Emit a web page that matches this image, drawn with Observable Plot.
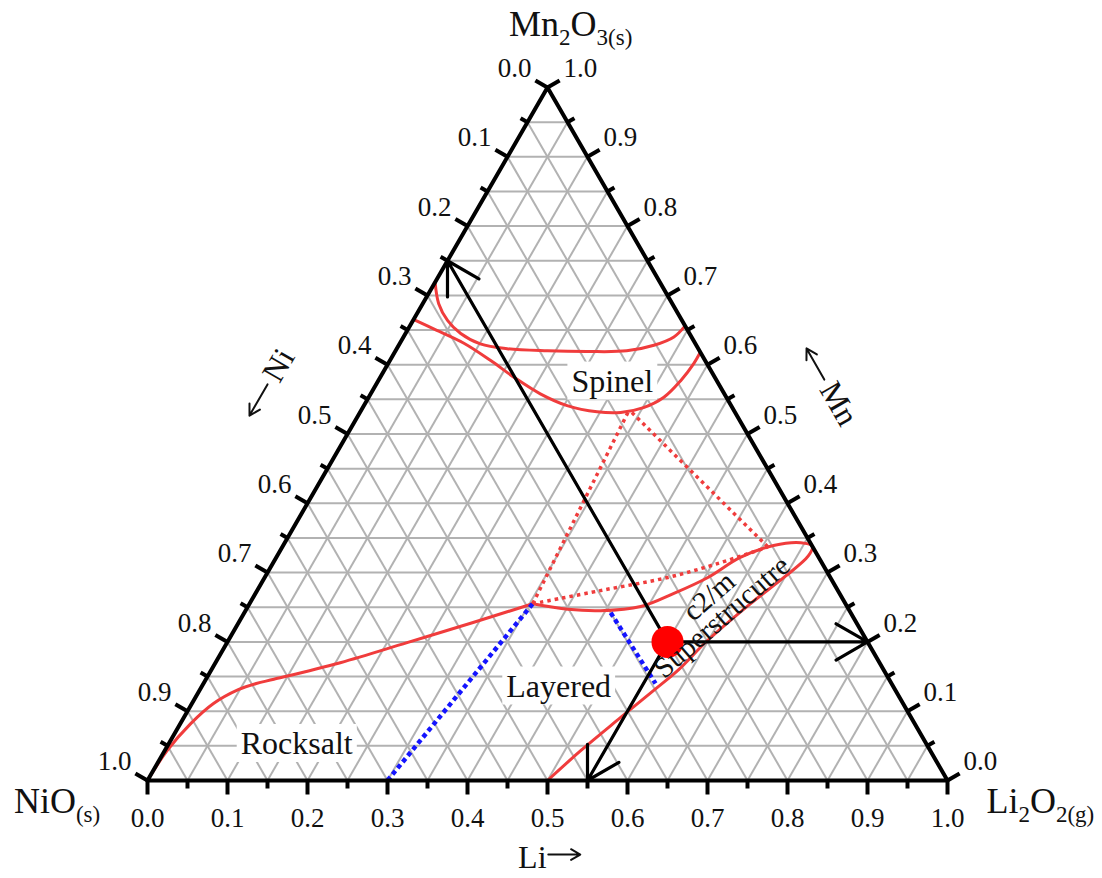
<!DOCTYPE html>
<html>
<head>
<meta charset="utf-8">
<script src="https://cdn.jsdelivr.net/npm/d3@7"></script>
<script src="https://cdn.jsdelivr.net/npm/@observablehq/plot@0.6"></script>
<style>
  html, body { margin: 0; padding: 0; background: #fff; }
</style>
</head>
<body>
<div id="chart"></div>
<script>
// Ternary phase diagram Li2O2 – NiO – Mn2O3.
// Every composition is written as [Li, Mn]; Ni = 1 − Li − Mn.

const tickValues = [0, 0.05, 0.1, 0.15, 0.2, 0.25, 0.3, 0.35, 0.4, 0.45, 0.5,
                    0.55, 0.6, 0.65, 0.7, 0.75, 0.8, 0.85, 0.9, 0.95, 1];
const tickLabels = ["0.0", "0.1", "0.2", "0.3", "0.4", "0.5", "0.6", "0.7", "0.8", "0.9", "1.0"];

// Spinel field boundaries
const spinelUpper = [[0.000, 0.719], [0.020, 0.688], [0.043, 0.664], [0.069, 0.645], [0.101, 0.630],
  [0.138, 0.623], [0.190, 0.620], [0.240, 0.619], [0.289, 0.620], [0.319, 0.628], [0.338, 0.640], [0.344, 0.656]];
const spinelLower = [[0.003, 0.664], [0.031, 0.652], [0.080, 0.631], [0.126, 0.606], [0.167, 0.582],
  [0.212, 0.558], [0.254, 0.541], [0.296, 0.532], [0.326, 0.531], [0.351, 0.538], [0.369, 0.553],
  [0.378, 0.577], [0.382, 0.602], [0.382, 0.618]];

// Rocksalt / layered boundary from the NiO corner
const rocksaltLayered = [[0.000, 0.000], [0.003, 0.043], [0.013, 0.082], [0.027, 0.111], [0.048, 0.131],
  [0.066, 0.140], [0.085, 0.146], [0.156, 0.170], [0.225, 0.199], [0.293, 0.228], [0.354, 0.255]];

// Layered / c2/m superstructure boundary (closed lens tip, then down to the Li axis)
const superstructure = [[0.354, 0.255], [0.402, 0.247], [0.444, 0.245], [0.491, 0.251], [0.523, 0.270],
  [0.554, 0.293], [0.580, 0.322], [0.613, 0.339], [0.645, 0.343], [0.662, 0.338], [0.664, 0.324],
  [0.649, 0.293], [0.626, 0.255], [0.599, 0.202], [0.584, 0.160], [0.570, 0.134], [0.546, 0.091],
  [0.520, 0.043], [0.500, 0.000]];

// Tentative (dotted) boundaries
const lensDotted = [[0.354, 0.255], [0.429, 0.274], [0.504, 0.293], [0.556, 0.313], [0.607, 0.337]];
const spinelDottedLeft = [[0.335, 0.531], [0.354, 0.255]];
const spinelDottedRight = [[0.340, 0.531], [0.607, 0.337]];
const blueDottedA = [[0.300, 0.000], [0.354, 0.255]];
const blueDottedB = [[0.458, 0.242], [0.565, 0.140]];

// Marked composition and its read-out to the three axes
const composition = [0.55, 0.20];
const readouts = [[0.00, 0.75], [0.55, 0.00], [0.80, 0.20]];

// Phase field names
const phaseLabels = [
  {name: "Spinel", at: [0.293, 0.576]},
  {name: "Layered", at: [0.446, 0.136]},
  {name: "Rocksalt", at: [0.160, 0.053]}
];
const superLabels = [
  {name: "c2/m", at: [0.569, 0.266]},
  {name: "Superstrucutre", at: [0.600, 0.236]}
];

// Corner formulas (pieces flagged 1 are subscripts); positions in the triangle plane [x, y]
const formulas = [
  {parts: [["Mn", 0], ["2", 1], ["O", 0], ["3(s)", 1]], xy: [0.529, 0.945]},
  {parts: [["NiO", 0], ["(s)", 1]], xy: [-0.113, -0.026]},
  {parts: [["Li", 0], ["2", 1], ["O", 0], ["2(g)", 1]], xy: [1.116, -0.026]}
];
// Axis direction titles: element name plus a drawn arrow (plane coordinates)
const axisNames = [
  {text: "Li", xy: [0.481, -0.096], rotate: 0},
  {text: "Ni", xy: [0.164, 0.519], rotate: -60},
  {text: "Mn", xy: [0.864, 0.471], rotate: 60}
];
const axisArrows = [
  {from: [0.501, -0.0925], to: [0.541, -0.0925]},
  {from: [0.150, 0.495], to: [0.1275, 0.456]},
  {from: [0.846, 0.501], to: [0.8238, 0.540]}
];

// ---- projection of [Li, Mn] onto the plane of the equilateral triangle
const S3 = Math.sqrt(3) / 2;
const px = p => p[0] + p[1] / 2;
const py = p => p[1] * S3;

const PX = 800;                 // pixels per side length
const MAJOR = 14 / PX, MINOR = 8 / PX, LABEL_OFF = 38 / PX;

const axes = [
  {at: v => [v, 0], n: [0, -1]},          // Li along the base
  {at: v => [0, 1 - v], n: [-S3, 0.5]},   // Ni along the left side
  {at: v => [1 - v, v], n: [S3, 0.5]}     // Mn along the right side
];
const ticks = axes.flatMap(ax => tickValues.map((v, i) => ({
  p: ax.at(v), n: ax.n, major: i % 2 === 0, label: i % 2 === 0 ? tickLabels[i / 2] : null
})));

const grid = tickValues.filter(k => k > 0 && k < 1).flatMap(k => [
  {a: [0, k], b: [1 - k, k]},
  {a: [k, 0], b: [k, 1 - k]},
  {a: [1 - k, 0], b: [0, 1 - k]}
]);

const serif = "'Liberation Serif', 'Times New Roman', serif";
const red = "#f03c3c";
const blue = "#1414ff";

const curve = (data, opts) => Plot.line(data, {x: px, y: py, curve: "catmull-rom", ...opts});
const dotted = (data, color, w, pattern) =>
  curve(data, {stroke: color, strokeWidth: w, strokeDasharray: pattern, strokeLinecap: "butt"});

const chart = Plot.plot({
  width: 1102,
  height: 878,
  x: {domain: [0, 1], range: [147, 947], axis: null},
  y: {domain: [0, S3], range: [780, 87], axis: null},
  style: {fontFamily: serif, background: "#fff", color: "#000"},
  marks: [
    Plot.link(grid, {
      x1: d => px(d.a), y1: d => py(d.a), x2: d => px(d.b), y2: d => py(d.b),
      stroke: "#b2b2b2", strokeWidth: 2
    }),
    Plot.text(phaseLabels, {
      x: d => px(d.at), y: d => py(d.at), text: "name", fontSize: 32, fill: "#111"
    }),
    curve(spinelUpper, {stroke: red, strokeWidth: 3}),
    curve(spinelLower, {stroke: red, strokeWidth: 3}),
    curve(rocksaltLayered, {stroke: red, strokeWidth: 3}),
    curve(superstructure, {stroke: red, strokeWidth: 3}),
    dotted(lensDotted, red, 3.5, "3.5,4"),
    dotted(spinelDottedLeft, red, 3.5, "3.5,4"),
    dotted(spinelDottedRight, red, 3.5, "3.5,4"),
    dotted(blueDottedA, blue, 4.5, "4.5,3.5"),
    dotted(blueDottedB, blue, 4.5, "4.5,3.5"),
    Plot.arrow(readouts, {
      x1: px(composition), y1: py(composition), x2: px, y2: py,
      stroke: "#000", strokeWidth: 3.2, headLength: 17
    }),
    Plot.line([[0, 0], [1, 0], [0, 1], [0, 0]], {x: px, y: py, stroke: "#000", strokeWidth: 4, strokeLinejoin: "round"}),
    Plot.link(ticks, {
      x1: d => px(d.p), y1: d => py(d.p),
      x2: d => px(d.p) + d.n[0] * (d.major ? MAJOR : MINOR),
      y2: d => py(d.p) + d.n[1] * (d.major ? MAJOR : MINOR),
      stroke: "#000", strokeWidth: 4
    }),
    Plot.dot([composition], {x: px, y: py, r: 16, fill: "#ff0000", stroke: null}),
    Plot.text(superLabels, {
      x: d => px(d.at), y: d => py(d.at), text: "name",
      fontSize: 29, rotate: -41, fill: "#111"
    }),
    Plot.text(ticks.filter(d => d.major), {
      x: d => px(d.p) + d.n[0] * LABEL_OFF, y: d => py(d.p) + d.n[1] * LABEL_OFF,
      text: "label", fontSize: 27, fill: "#111"
    }),
    Plot.text(formulas, {
      x: d => d.xy[0], y: d => d.xy[1], text: d => d.parts.map(p => p[0]).join(""),
      fontSize: 36, fill: "#111"
    }),
    Plot.text(axisNames, {
      x: d => d.xy[0], y: d => d.xy[1], text: "text", rotate: d => d.rotate,
      fontSize: 32, fill: "#111"
    }),
    Plot.arrow(axisArrows, {
      x1: d => d.from[0], y1: d => d.from[1], x2: d => d.to[0], y2: d => d.to[1],
      stroke: "#111", strokeWidth: 2, headLength: 12
    })
  ]
});

document.getElementById("chart").appendChild(chart);

const allText = Array.from(chart.querySelectorAll("text"));

// Subscripted corner formulas
for (const f of formulas) {
  const plain = f.parts.map(p => p[0]).join("");
  const node = allText.find(t => t.textContent === plain);
  if (!node) continue;
  const el = d3.select(node);
  el.text(null);
  let shifted = false;
  for (const [str, sub] of f.parts) {
    const t = el.append("tspan").text(str);
    if (sub) {
      t.attr("font-size", 23);
      if (!shifted) { t.attr("dy", 9); shifted = true; }
    } else if (shifted) {
      t.attr("dy", -9); shifted = false;
    }
  }
}

// White panels behind the phase names
for (const lab of phaseLabels) {
  const node = allText.find(t => t.textContent === lab.name);
  if (!node) continue;
  const b = node.getBBox();
  const pad = 4;
  const r = document.createElementNS("http://www.w3.org/2000/svg", "rect");
  r.setAttribute("x", b.x - pad);
  r.setAttribute("y", b.y - 1);
  r.setAttribute("width", b.width + 2 * pad);
  r.setAttribute("height", b.height + 2);
  r.setAttribute("fill", "#fff");
  const tf = node.getAttribute("transform");
  if (tf) r.setAttribute("transform", tf);
  node.parentNode.insertBefore(r, node);
}
</script>
</body>
</html>
